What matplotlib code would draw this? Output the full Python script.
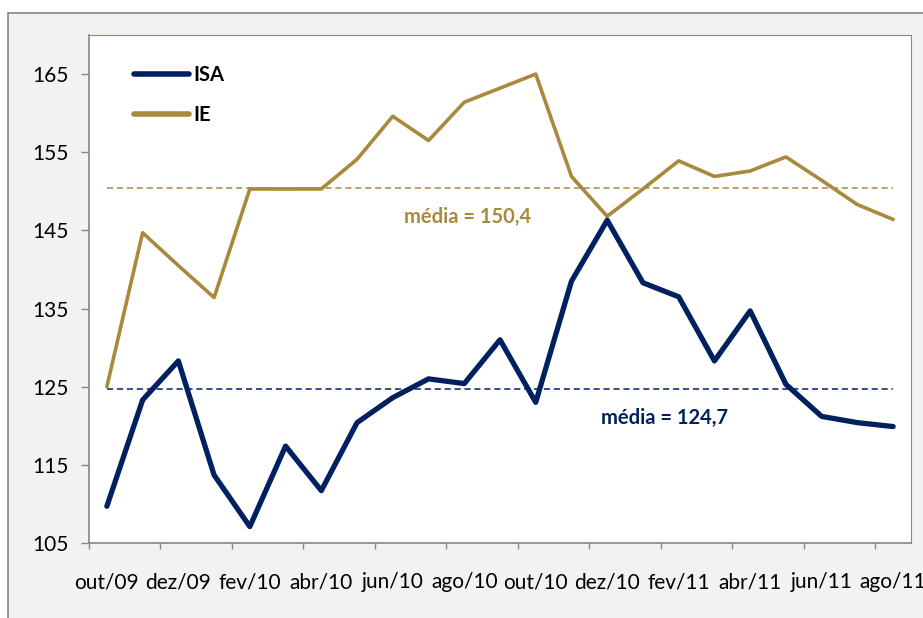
import matplotlib.pyplot as plt
from matplotlib.patches import Rectangle

# meses (categorias do eixo x)
meses = ["out/09", "nov/09", "dez/09", "jan/10", "fev/10", "mar/10", "abr/10", "mai/10",
         "jun/10", "jul/10", "ago/10", "set/10", "out/10", "nov/10", "dez/10", "jan/11",
         "fev/11", "mar/11", "abr/11", "mai/11", "jun/11", "jul/11", "ago/11"]

isa = [109.7, 123.3, 128.3, 113.7, 107.1, 117.4, 111.7, 120.4, 123.6, 126.0, 125.4, 131.0,
       123.0, 138.5, 146.3, 138.3, 136.5, 128.3, 134.7, 125.3, 121.2, 120.4, 119.9]
ie = [125.0, 144.7, 140.5, 136.4, 150.3, 150.3, 150.3, 154.1, 159.6, 156.5, 161.4, 163.2,
      165.0, 151.9, 146.8, 150.3, 153.9, 151.9, 152.6, 154.4, 151.4, 148.3, 146.4]

media_isa = 124.7
media_ie = 150.4
yticks = [105, 115, 125, 135, 145, 155, 165]

azul = "#002060"
dourado = "#a8893d"
cinza = "#868686"

plt.rcParams['font.family'] = ['Lato', 'DejaVu Sans']

fig = plt.figure(figsize=(9.23, 6.18), dpi=100)
fig.patch.set_facecolor("white")
# fundo cinza do grafico (moldura do Excel)
fig.patches.append(Rectangle((8/923, -0.05), 1.1, 1 - 13/618 + 0.05, transform=fig.transFigure,
                             facecolor="#f2f2f2", edgecolor=cinza, lw=1.2, zorder=-10))

ax = fig.add_axes([89/923, 1 - 543/618, (911 - 89)/923, (543 - 35)/618])
ax.set_facecolor("white")

x = list(range(len(meses)))
ax.plot(x, ie, color=dourado, lw=2.6, label="IE", solid_capstyle="round", zorder=3)
ax.plot(x, isa, color=azul, lw=3.8, label="ISA", solid_capstyle="round", zorder=4)
ax.plot(x, [media_ie]*len(x), color=dourado, lw=1.1, ls=(0, (4, 2.5)), zorder=2)
ax.plot(x, [media_isa]*len(x), color=azul, lw=1.1, ls=(0, (4, 2.5)), zorder=2)

ax.text(10.1, 146.7, "média = " + str(media_ie).replace(".", ","), color=dourado,
        fontsize=14.5, fontweight="bold", ha="center", va="center")
ax.text(15.6, 121.0, "média = " + str(media_isa).replace(".", ","), color=azul,
        fontsize=14.5, fontweight="bold", ha="center", va="center")

ax.set_xlim(-0.5, len(meses) - 0.5)
ax.set_ylim(105, 170)
ax.set_yticks(yticks)
ax.set_yticklabels([str(v) for v in yticks], fontsize=15)
ax.tick_params(axis="y", direction="out", length=6, width=1, color=cinza, pad=9)

# marcas nas fronteiras das categorias, rotulos no centro
ax.set_xticks([i - 0.5 for i in range(0, len(meses), 2)])
ax.set_xticklabels([])
ax.tick_params(axis="x", which="major", direction="out", length=4, width=1, color=cinza)
ax.set_xticks(x[::2], minor=True)
ax.set_xticklabels(meses[::2], minor=True, fontsize=15)
ax.tick_params(axis="x", which="minor", length=0, pad=21)

ax.spines["left"].set_color(cinza)
ax.spines["bottom"].set_color(cinza)
ax.spines["left"].set_linewidth(1.2)
ax.spines["bottom"].set_linewidth(1.2)
ax.spines["top"].set_color(dourado)
ax.spines["right"].set_color(dourado)

h, l = ax.get_legend_handles_labels()
leg = ax.legend(h[::-1], l[::-1], loc="upper left", bbox_to_anchor=(0.055, 0.94), frameon=False,
                prop={"weight": "bold", "size": 14.5}, handlelength=2.7, handletextpad=0.25,
                labelspacing=0.95, borderpad=0, borderaxespad=0)
for line in leg.get_lines():
    line.set_solid_capstyle("round")
    line.set_linewidth(4)

fig.savefig("out.png", dpi=100)
